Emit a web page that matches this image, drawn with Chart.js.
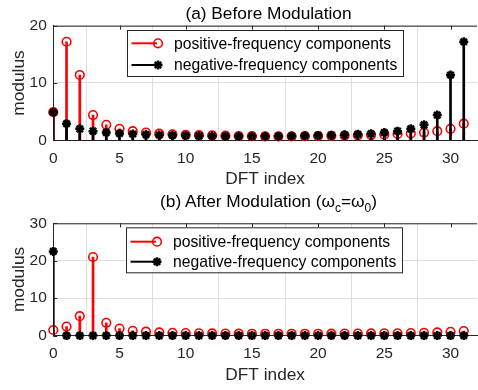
<!DOCTYPE html>
<html>
<head>
<meta charset="utf-8">
<title>DFT modulus before / after modulation</title>
<script src="https://cdn.jsdelivr.net/npm/chart.js@4.4.1/dist/chart.umd.min.js"></script>
<style>
  html, body { margin: 0; padding: 0; background: #fff; }
  body { width: 478px; height: 390px; overflow: hidden; position: relative; font-family: "Liberation Sans", Arial, sans-serif; }
  .plot { position: absolute; left: 0; width: 484px; z-index: 1; }
  .title { position: absolute; left: 53px; width: 431px; text-align: center; font-size: 17.3px; line-height: 20px; color: #000; white-space: nowrap; z-index: 2; }
  .title sub { font-size: 12px; line-height: 0; vertical-align: -5px; }
</style>
</head>
<body>
<div class="title" style="top:3px">(a) Before Modulation</div>
<div class="plot" style="top:0; height:190px"><canvas id="beforeChart"></canvas></div>
<div class="title" style="top:191px">(b) After Modulation (ω<sub>c</sub>=ω<sub>0</sub>)</div>
<div class="plot" style="top:188px; height:198px"><canvas id="afterChart"></canvas></div>

<script>
// --- data ---
const dftIndex = [0, 1, 2, 3, 4, 5, 6, 7, 8, 9, 10, 11, 12, 13, 14, 15,
                  16, 17, 18, 19, 20, 21, 22, 23, 24, 25, 26, 27, 28, 29, 30, 31];
const xTicks = [0, 5, 10, 15, 20, 25, 30];
const beforeYTicks = [0, 10, 20];
const afterYTicks = [0, 10, 20, 30];
const seriesNames = ['positive-frequency components', 'negative-frequency components'];

const beforePositive = [4.9, 17.2, 11.4, 4.4, 2.7, 2.0, 1.6, 1.35, 1.15, 1.05, 0.95, 0.9, 0.85, 0.8, 0.75, 0.72,
                        0.7, 0.7, 0.7, 0.72, 0.75, 0.78, 0.82, 0.87, 0.92, 1.0, 1.1, 1.2, 1.35, 1.6, 2.0, 2.9];
const beforeNegative = [4.9, 2.9, 2.0, 1.6, 1.35, 1.2, 1.1, 1.0, 0.92, 0.87, 0.82, 0.78, 0.75, 0.72, 0.7, 0.7,
                        0.7, 0.72, 0.75, 0.8, 0.85, 0.9, 0.95, 1.05, 1.15, 1.35, 1.6, 2.0, 2.7, 4.4, 11.4, 17.2];
const afterPositive = [1.5, 2.4, 5.2, 21.0, 3.4, 1.9, 1.3, 1.05, 0.85, 0.75, 0.68, 0.62, 0.58, 0.55, 0.52, 0.5,
                       0.5, 0.5, 0.5, 0.5, 0.5, 0.52, 0.53, 0.55, 0.58, 0.6, 0.63, 0.68, 0.75, 0.85, 1.0, 1.2];
const afterNegative = [22.5, 0, 0, 0, 0, 0, 0, 0, 0, 0, 0, 0, 0, 0, 0, 0,
                       0, 0, 0, 0, 0, 0, 0, 0, 0, 0, 0, 0, 0, 0, 0, 0];

const RED = '#ff0000';
const BLACK = '#000000';
const axisColor = '#262626';
const gridColor = '#dfdfdf';

Chart.defaults.font.family = '"Liberation Sans", Arial, sans-serif';

function points(values) {
    return values.map((v, i) => ({ x: dftIndex[i], y: v }));
}

// matlab-ish markers, used for the legend too
function drawMarker(ctx, style, x, y) {
    ctx.save();
    if (style === 'circle') {
        ctx.strokeStyle = RED;
        ctx.lineWidth = 1.6;
        ctx.beginPath();
        ctx.arc(x, y, 4.3, 0, Math.PI * 2);
        ctx.stroke();
    } else {
        ctx.strokeStyle = BLACK;
        ctx.lineWidth = 2.5;
        ctx.beginPath();
        const r = 4.5, d = r * Math.SQRT1_2;
        ctx.moveTo(x - r, y); ctx.lineTo(x + r, y);
        ctx.moveTo(x, y - r); ctx.lineTo(x, y + r);
        ctx.moveTo(x - d, y - d); ctx.lineTo(x + d, y + d);
        ctx.moveTo(x - d, y + d); ctx.lineTo(x + d, y - d);
        ctx.stroke();
    }
    ctx.restore();
}

function stemDatasets(pos, neg) {
    return [
        { type: 'line', label: seriesNames[1], data: points(neg), showLine: false,
          pointStyle: 'star', pointRadius: 4.5, pointBorderWidth: 2.5,
          borderColor: BLACK, backgroundColor: BLACK, clip: false, order: 0 },
        { type: 'bar', label: 'neg stem', data: points(neg), backgroundColor: BLACK,
          barThickness: 2, grouped: false, order: 1 },
        { type: 'line', label: seriesNames[0], data: points(pos), showLine: false,
          pointStyle: 'circle', pointRadius: 4.3, pointBorderWidth: 1.6,
          borderColor: RED, backgroundColor: 'rgba(0,0,0,0)', clip: false, order: 2 },
        { type: 'bar', label: 'pos stem', data: points(pos), backgroundColor: RED,
          barThickness: 2, grouped: false, order: 3 }
    ];
}

// box, inward ticks and the legend
const axesDecor = {
    id: 'axesDecor',
    afterDraw(chart, args, opts) {
        const ctx = chart.ctx;
        const a = chart.chartArea;
        const sx = chart.scales.x, sy = chart.scales.y;
        ctx.save();
        ctx.strokeStyle = axisColor;
        ctx.lineWidth = 1;
        ctx.beginPath();
        ctx.moveTo(a.left, a.top + 0.5); ctx.lineTo(a.right, a.top + 0.5);
        sx.ticks.forEach(t => {
            const px = Math.round(sx.getPixelForValue(t.value)) + 0.5;
            ctx.moveTo(px, a.bottom); ctx.lineTo(px, a.bottom - 4);
            ctx.moveTo(px, a.top); ctx.lineTo(px, a.top + 4);
        });
        sy.ticks.forEach(t => {
            const py = Math.round(sy.getPixelForValue(t.value)) + 0.5;
            ctx.moveTo(a.left, py); ctx.lineTo(a.left + 4, py);
        });
        ctx.stroke();

        // legend
        const L = opts.box;
        ctx.fillStyle = '#fff';
        ctx.fillRect(L.left, L.top, L.width, L.height);
        ctx.strokeStyle = axisColor;
        ctx.strokeRect(L.left + 0.5, L.top + 0.5, L.width, L.height);
        const rows = [
            { text: seriesNames[0], color: RED, marker: 'circle' },
            { text: seriesNames[1], color: BLACK, marker: 'star' }
        ];
        ctx.font = '15.7px "Liberation Sans", Arial, sans-serif';
        ctx.textBaseline = 'middle';
        rows.forEach((r, i) => {
            const y = L.top + L.rowTop + i * L.rowGap;
            ctx.strokeStyle = r.color;
            ctx.lineWidth = 2;
            ctx.beginPath();
            ctx.moveTo(L.left + 4.5, y); ctx.lineTo(L.left + 30, y);
            ctx.stroke();
            drawMarker(ctx, r.marker, L.left + 31, y);
            ctx.fillStyle = '#000';
            ctx.fillText(r.text, L.left + 47, y + 1);
        });
        ctx.restore();
    }
};

function buildOptions(yMax, yTicks, padTop, axisHeight, legendBox) {
    return {
        responsive: true,
        maintainAspectRatio: false,
        animation: false,
        layout: { padding: { top: padTop, left: 0, right: 0, bottom: 0 } },
        plugins: {
            legend: { display: false },
            tooltip: { enabled: false },
            axesDecor: { box: legendBox }
        },
        scales: {
            x: {
                type: 'linear', min: 0, max: 32, offset: false,
                afterBuildTicks: s => { s.ticks = xTicks.map(v => ({ value: v })); },
                afterFit: s => { s.height = axisHeight; },
                grid: { color: gridColor, drawTicks: false },
                border: { color: axisColor, width: 1 },
                ticks: { padding: 9, color: axisColor, font: { size: 15.5 }, maxRotation: 0, autoSkip: false },
                title: { display: true, text: 'DFT index', color: axisColor, font: { size: 17.3 }, padding: 0 }
            },
            y: {
                min: 0, max: yMax,
                afterBuildTicks: s => { s.ticks = yTicks.map(v => ({ value: v })); },
                afterFit: s => { s.width = 53.3; },
                grid: { color: gridColor, drawTicks: false },
                border: { color: axisColor, width: 1 },
                ticks: { padding: 6.5, color: axisColor, font: { size: 15.5 } },
                title: { display: true, text: 'modulus', color: axisColor, font: { size: 17.3 }, padding: { top: 9, bottom: 0 } }
            }
        }
    };
}

new Chart(document.getElementById('beforeChart'), {
    type: 'scatter',
    data: { datasets: stemDatasets(beforePositive, beforeNegative) },
    options: buildOptions(20, beforeYTicks, 25.7, 49.7,
        { left: 127, top: 30, width: 276, height: 46, rowTop: 13.3, rowGap: 21.7 }),
    plugins: [axesDecor]
});

new Chart(document.getElementById('afterChart'), {
    type: 'scatter',
    data: { datasets: stemDatasets(afterPositive, afterNegative) },
    options: buildOptions(30, afterYTicks, 35.3, 50.4,
        { left: 126, top: 39.3, width: 276, height: 45, rowTop: 14.4, rowGap: 20 }),
    plugins: [axesDecor]
});
</script>
</body>
</html>
